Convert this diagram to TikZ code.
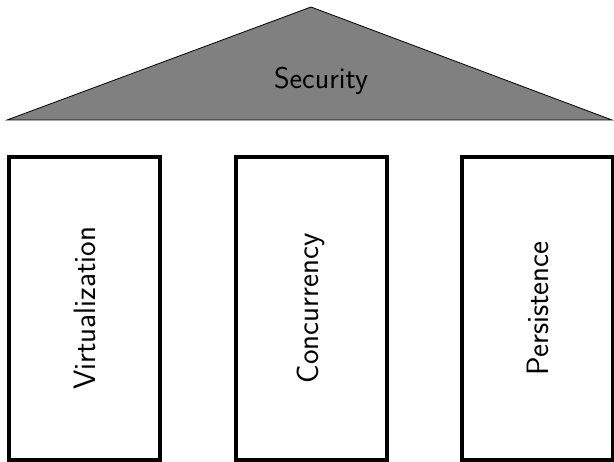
\documentclass[tikz,border=0pt]{standalone}
\usepackage{tikz}
\definecolor{roofgray}{RGB}{128,128,128}
\begin{document}
\begin{tikzpicture}[x=1pt,y=-1pt,
  pillar/.style={draw=black, line width=4pt, rotate=90, minimum width=302.7pt, minimum height=151pt, inner sep=0pt,
    font=\sffamily\fontsize{30.9}{36}\selectfont},
  rooflabel/.style={font=\sffamily\fontsize{30}{36}\selectfont, inner sep=0pt}]
\useasboundingbox (0,0) rectangle (614,462);
\coordinate (tl) at (7,120);
\coordinate (tr) at (612,120);
\coordinate (ta) at (311,7);
\filldraw[fill=roofgray, draw=black, line width=0.8pt, line join=miter] (tl) -- (ta) -- (tr) -- cycle;
\node[rooflabel, anchor=base] (sec) at (321,88.5) {Security};
\node[pillar] (virt) at (84.5,308.3) {Virtualization};
\node[pillar] (conc) at (311,308.3) {Concurrency};
\node[pillar] (pers) at (537.5,308.3) {Persistence};
\end{tikzpicture}
\end{document}
